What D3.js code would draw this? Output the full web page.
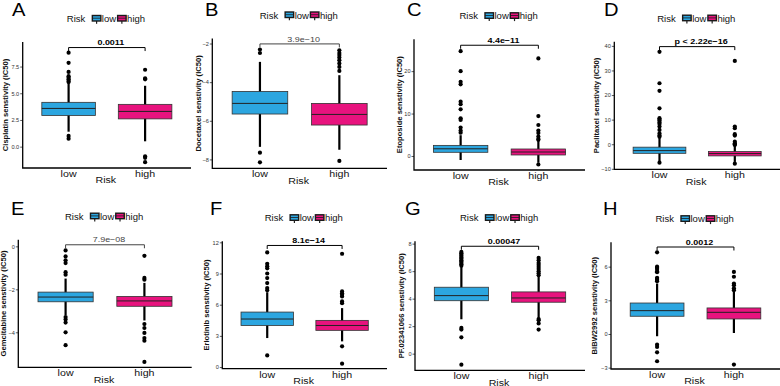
<!DOCTYPE html>
<html lang="en">
<head>
<meta charset="UTF-8">
<title>Drug sensitivity by risk group</title>
<script src="https://cdn.jsdelivr.net/npm/d3@7"></script>
<style>
  body { margin: 0; background: #fff; }
  svg { display: block; font-family: "Liberation Sans", Arial, sans-serif; }
</style>
</head>
<body>
<svg id="chart" width="780" height="386"></svg>
<script>
// ---- data ----
const panelLetters = ["A", "B", "C", "D", "E", "F", "G", "H"];
const drugs = ["Cisplatin", "Docetaxel", "Etoposide", "Paclitaxel",
               "Gemcitabine", "Erlotinib", "PF.02341066", "BIBW2992"];
const groups = ["low", "high"];
const pLabels = ["0.0011", "3.9e\u221210", "4.4e\u221211", "p < 2.22e\u221216",
                 "7.9e\u221208", "8.1e\u221214", "0.00047", "0.0012"];

// [lower whisker, Q1, median, Q3, upper whisker]
const lowStats = [
  [1.4, 2.92, 3.58, 4.15, 5.95],
  [-7.35, -5.65, -5.10, -4.48, -2.95],
  [-0.94, 0.87, 1.7, 2.5, 4.9],
  [-7.0, -3.7, -2.6, -1.2, 2.5],
  [-3.2, -2.58, -2.36, -2.13, -1.5],
  [2.79, 4.0, 4.62, 5.29, 7.2],
  [2.5, 3.85, 4.22, 4.83, 6.3],
  [-0.2, 1.58, 2.08, 2.76, 4.5]
];
const highStats = [
  [0.5, 2.6, 3.3, 3.96, 5.7],
  [-7.5, -6.22, -5.67, -5.10, -3.64],
  [-1.6, 0.24, 0.94, 1.65, 3.7],
  [-7.2, -4.75, -3.8, -3.0, -0.5],
  [-3.45, -2.79, -2.54, -2.33, -1.7],
  [2.47, 3.53, 4.0, 4.49, 5.67],
  [2.6, 3.74, 4.05, 4.49, 5.6],
  [0.09, 1.34, 1.93, 2.32, 3.8]
];
const lowOutliers = [
  [8.8, 7.85, 7.0, 6.6, 6.45, 6.3, 6.15, 6.05, 1.0, 0.75],
  [-2.31, -2.49, -7.65, -8.15],
  [24.7, 20, 17.5, 16.9, 12.8, 12.2, 11, 8.9, 8.5, 6.7, 6.0, 5.5],
  [37.6, 24.8, 21.7, 14.6, 10.6, 10.0, 9.5, 8.8, 8.2, 7.2, 5.8, 4.4, 3.5, 3.0, -7.5],
  [-0.19, -0.47, -0.65, -0.78, -1.2, -1.32, -3.29, -3.4, -3.55, -4.0, -4.6],
  [11.03, 9.93, 9.7, 9.5, 9.0, 8.56, 8.08, 7.6, 7.4, 1.12],
  [7.4, 7.3, 7.2, 7.1, 7.0, 6.9, 6.8, 6.7, 6.6, 6.5, 6.4, 1.87, 1.75, 1.19, -0.8],
  [7.28, 6.0, 5.9, 5.8, 5.6, 5.5, 5.0, 4.9, 4.8, 4.7, -0.95, -1.15, -1.63, -2.43]
];
const highOutliers = [
  [7.2, 6.4, 6.3, -0.9, -1.05, -1.45],
  [-2.35, -2.49, -2.6, -2.72, -2.86, -3.03, -3.21, -3.42, -8.08],
  [23, 9.4, 7.3, 6.0, 5.4, 4.6, 4.0, 3.8, -2.0],
  [33.9, 7.2, 6.5, 4.1, 3.5, 1.05, 0.4, 0.0, -0.3, -7.9],
  [-0.44, -1.47, -1.55, -3.62, -3.8, -4.03, -4.27, -4.39, -5.38],
  [10.9, 7.28, 7.1, 6.95, 6.8, 6.31, 6.15, 1.99, 0.32],
  [6.96, 6.8, 6.6, 6.45, 6.3, 6.15, 6.0, 5.85, 5.7, 2.52, 2.43, 2.2, 1.75],
  [5.53, 5.1, 4.5, 4.35, 4.07, 3.9, -2.73]
];
const yTicks = [
  [0, 2.5, 5, 7.5], [-8, -6, -4, -2], [0, 10, 20], [-10, 0, 10, 20, 30, 40],
  [-4, -2, 0], [0, 3, 6, 9, 12], [0, 2, 4, 6, 8], [-3, 0, 3, 6]
];
const yDomains = [
  [-2.0, 9.8], [-8.46, -1.74], [-3.3, 27.5], [-10.2, 41.7],
  [-5.63, 0.31], [-0.16, 12.1], [-1.21, 8.17], [-3.12, 8.17]
];
// height of the p-value bracket, in data units
const bracketY = [9.28, -2.02, 26.1, 39.7, 0.074, 11.7, 7.81, 7.75];

// ---- layout ----
const frames = [
  {x0: 22.7, x1: 191, top: 42, bottom: 168},
  {x0: 212.3, x1: 387, top: 38.5, bottom: 168.3},
  {x0: 414, x1: 585, top: 39.3, bottom: 170},
  {x0: 614.3, x1: 780, top: 41.7, bottom: 169.3},
  {x0: 18.3, x1: 191.7, top: 239.7, bottom: 367.3},
  {x0: 222.3, x1: 387, top: 241.3, bottom: 368.7},
  {x0: 415, x1: 585, top: 241.3, bottom: 370.3},
  {x0: 611, x1: 780, top: 242.3, bottom: 369}
];
const letterPos = [[12, 16], [205, 16], [407, 16], [604, 16], [11, 215], [210, 215], [405, 215], [603, 215]];
const titleX = [5, 198.5, 399.5, 596, 3.5, 206.5, 401.5, 594];
const pBold = [true, false, true, true, false, true, true, true];

const colors = d3.scaleOrdinal().domain(groups).range(["#2CA6E0", "#E8137E"]);
const svg = d3.select("#chart");

// text helper: glyphs in the figure are a little wider than tall
function label(g, x, y, str, size, anchor, weight, sx) {
  return g.append("text")
    .attr("transform", `translate(${x},${y}) scale(${sx || 1},1)`)
    .attr("font-size", size)
    .attr("font-weight", weight || "normal")
    .attr("text-anchor", anchor || "start")
    .attr("fill", "#111")
    .text(str);
}

drugs.forEach((drug, i) => {
  const f = frames[i];
  const g = svg.append("g");
  const x = d3.scalePoint().domain(groups).range([f.x0, f.x1]).padding(0.6);
  const y = d3.scaleLinear().domain(yDomains[i]).range([f.bottom, f.top]);
  const bw = x.step() * 0.7;
  const stats = {low: lowStats[i], high: highStats[i]};
  const outs = {low: lowOutliers[i], high: highOutliers[i]};

  // panel letter
  label(g, letterPos[i][0], letterPos[i][1], panelLetters[i], 18, "start", "normal", 1.12)
    .attr("fill", "#000");

  // legend
  const cxMid = (f.x0 + f.x1) / 2;
  const base = f.top - 20;
  const lg = g.append("g");
  let cx = cxMid - 40;
  let t = label(lg, cx, base, "Risk", 8.5, "start", "normal", 1.12);
  cx += t.node().getComputedTextLength() * 1.12 + 7;
  groups.forEach(k => {
    lg.append("line")
      .attr("x1", cx + 4.25).attr("x2", cx + 4.25)
      .attr("y1", base - 1).attr("y2", base + 1.8)
      .attr("stroke", "#222").attr("stroke-width", 1.2);
    lg.append("rect")
      .attr("x", cx).attr("y", base - 6.5).attr("width", 8.5).attr("height", 5.5)
      .attr("fill", colors(k)).attr("stroke", "#1a1a1a").attr("stroke-width", 1.4);
    lg.append("line")
      .attr("x1", cx).attr("x2", cx + 8.5)
      .attr("y1", base - 3.8).attr("y2", base - 3.8)
      .attr("stroke", "#1a1a1a").attr("stroke-width", 0.8);
    cx += 9.5;
    t = label(lg, cx, base, k, 8.5, "start", "normal", 1.12);
    cx += t.node().getComputedTextLength() * 1.12 + 1.5;
  });

  // y axis ticks and labels
  const fmt = i === 0 ? d3.format(".1f") : d3.format("d");
  const yAxis = g.append("g")
    .attr("transform", `translate(${f.x0},0)`)
    .call(d3.axisLeft(y).tickValues(yTicks[i]).tickSize(2.5).tickPadding(1).tickFormat(fmt));
  yAxis.select(".domain").remove();
  yAxis.selectAll(".tick line").attr("stroke", "#333").attr("stroke-width", 0.8);
  yAxis.selectAll(".tick text")
    .attr("font-size", 5.6).attr("fill", "#333")
    .attr("font-family", "'Liberation Sans', Arial, sans-serif");

  // axis lines
  g.append("path")
    .attr("d", `M${f.x0},${f.top}V${f.bottom}H${f.x1}`)
    .attr("fill", "none").attr("stroke", "#000").attr("stroke-width", 1.3);

  // y axis title
  g.append("text")
    .attr("transform", `translate(${titleX[i] + 2.7},${(f.top + f.bottom) / 2}) rotate(-90)`)
    .attr("text-anchor", "middle")
    .attr("font-size", 7.6).attr("font-weight", "bold").attr("fill", "#111")
    .text(`${drug} senstivity (IC50)`);

  // x labels and title
  groups.forEach(k => label(g, x(k), f.bottom + 8.8, k, 9.5, "middle", "normal", 1.12));
  label(g, cxMid - 1, f.bottom + 15.3, "Risk", 9.5, "middle", "normal", 1.12);

  // boxes
  groups.forEach(k => {
    const s = stats[k];
    const c = x(k);
    g.append("line")
      .attr("x1", c).attr("x2", c)
      .attr("y1", y(s[0])).attr("y2", y(s[4]))
      .attr("stroke", "#000").attr("stroke-width", 2.2);
    g.append("rect")
      .attr("x", c - bw / 2).attr("width", bw)
      .attr("y", y(s[3])).attr("height", y(s[1]) - y(s[3]))
      .attr("fill", colors(k)).attr("stroke", "#333").attr("stroke-width", 0.8);
    g.append("line")
      .attr("x1", c - bw / 2).attr("x2", c + bw / 2)
      .attr("y1", y(s[2])).attr("y2", y(s[2]))
      .attr("stroke", "#222").attr("stroke-width", 1);
    g.selectAll(null)
      .data(outs[k])
      .enter().append("circle")
      .attr("cx", c).attr("cy", d => y(d)).attr("r", 2.1)
      .attr("fill", "#000");
  });

  // p-value bracket
  const by = y(bracketY[i]);
  const bx0 = x("low"), bx1 = x("high");
  const bCol = pBold[i] ? "#000" : "#444";
  g.append("path")
    .attr("d", `M${bx0},${by + 3.5}V${by}H${bx1}V${by + 3.5}`)
    .attr("fill", "none").attr("stroke", bCol).attr("stroke-width", 1);
  label(g, (bx0 + bx1) / 2 + 4, by - 2.3, pLabels[i], 8, "middle", pBold[i] ? "bold" : "normal", 1.12)
    .attr("fill", bCol);
});
</script>
</body>
</html>
